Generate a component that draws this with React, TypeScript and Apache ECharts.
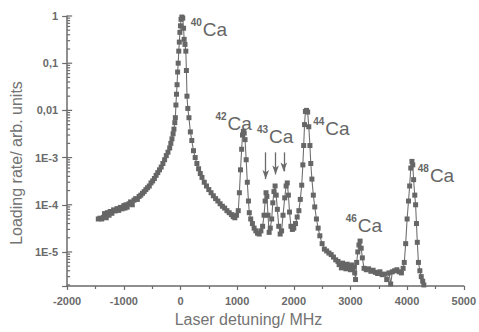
import React, { useEffect, useRef } from 'react';
import * as echarts from 'echarts';

// Laser detuning (MHz)
const detuning = [
  -1450, -1420, -1390, -1360, -1340, -1310, -1290, -1260, -1240, -1210, -1180, -1150, -1120, -1090,
  -1060, -1030, -1000, -980, -960, -940, -910, -880, -850, -820, -790, -760, -730, -700, -670, -640,
  -610, -580, -550, -520, -490, -460, -430, -400, -370, -340, -310, -280, -250, -220, -190, -170,
  -150, -130, -115, -100, -90, -80, -70, -60, -50, -40, -30, -20, -10, 0, 10, 25, 40, 55, 65, 80, 95,
  105, 115, 130, 150, 175, 200, 230, 260, 290, 320, 350, 380, 420, 460, 500, 540, 580, 620, 660, 700,
  740, 780, 820, 860, 900, 930, 960, 990, 1020, 1040, 1060, 1080, 1095, 1110, 1125, 1140, 1160, 1180,
  1200, 1215, 1240, 1270, 1300, 1330, 1360, 1390, 1420, 1450, 1475, 1495, 1510, 1525, 1545, 1565,
  1585, 1610, 1630, 1650, 1670, 1690, 1710, 1735, 1760, 1785, 1810, 1840, 1865, 1885, 1905, 1925,
  1950, 1975, 2000, 2030, 2060, 2090, 2115, 2140, 2160, 2175, 2190, 2205, 2225, 2245, 2265, 2285,
  2300, 2320, 2345, 2370, 2400, 2430, 2460, 2500, 2540, 2580, 2620, 2660, 2700, 2740,
  2780, 2800, 2820, 2840, 2860, 2880, 2900, 2920, 2940, 2960, 2980, 3000, 3020, 3040, 3060, 3075, 3090,
  3110, 3130, 3150, 3170, 3190, 3210, 3240, 3280, 3320,
  3360, 3400, 3440, 3480, 3520, 3560, 3600, 3640, 3680, 3710, 3740, 3780, 3820, 3860, 3900, 3930,
  3950, 3975, 4000, 4025, 4045, 4065, 4085, 4100, 4115, 4135, 4150, 4165, 4180, 4200, 4225, 4250,
  4275, 4295,
];

// Loading rate (arb. units)
const loadingRate = [
  5.0e-5, 5.2e-5, 5.0e-5, 5.4e-5, 6.5e-5, 5.3e-5, 6.8e-5, 6.0e-5, 7.2e-5, 6.6e-5, 7.8e-5, 7.4e-5,
  8.3e-5, 7.6e-5, 8.8e-5, 8.2e-5, 9.6e-5, 8.5e-5, 1.0e-4, 8.9e-5, 1.05e-4, 1.15e-4, 1.0e-4, 1.25e-4,
  1.35e-4, 1.3e-4, 1.5e-4, 1.6e-4, 1.75e-4, 1.9e-4, 2.1e-4, 2.3e-4, 2.5e-4, 2.9e-4, 3.2e-4, 3.6e-4,
  4.2e-4, 4.8e-4, 5.5e-4, 6.3e-4, 7.5e-4, 9.0e-4, 1.1e-3, 1.3e-3, 1.6e-3, 2.0e-3, 2.5e-3, 3.2e-3,
  4.0e-3, 5.5e-3, 7.0e-3, 1.3e-2, 2.2e-2, 3.5e-2, 6.5e-2, 0.1, 0.18, 0.28, 0.45, 0.62, 0.85, 0.95,
  0.9, 0.55, 0.32, 0.25, 0.18, 0.07, 0.02, 0.011, 7e-3, 3.5e-3, 2.3e-3, 1.4e-3, 1.0e-3, 7.5e-4,
  5.8e-4, 4.6e-4, 3.8e-4, 3.0e-4, 2.5e-4, 2.1e-4, 1.8e-4, 1.55e-4, 1.35e-4, 1.2e-4, 1.05e-4, 9.3e-5,
  8.5e-5, 7.5e-5, 6.8e-5, 6.2e-5, 5.6e-5, 5.3e-5, 6.0e-5, 7.5e-5, 1.8e-4, 5.5e-4, 1.5e-3, 3.0e-3,
  3.6e-3, 3.3e-3, 2.4e-3, 9e-4, 3e-4, 1.2e-4, 6.8e-5, 5.0e-5, 4.0e-5, 3.2e-5, 2.8e-5, 2.5e-5,
  2.4e-5, 2.8e-5, 3.5e-5, 6e-5, 1.2e-4, 1.8e-4, 1.5e-4, 6e-5, 2.6e-5, 3.2e-5, 5e-5, 1.1e-4, 1.9e-4,
  2.5e-4, 1.6e-4, 8e-5, 3.5e-5, 2.4e-5, 2.8e-5, 6e-5, 1.4e-4, 2.5e-4, 2.9e-4, 1.6e-4, 7e-5, 3.5e-5,
  3.0e-5, 3.2e-5, 4.0e-5, 5.5e-5, 7.5e-5, 1.3e-4, 2.6e-4, 7e-4, 1.8e-3, 5e-3, 9.5e-3, 1.0e-2,
  9.2e-3, 4.5e-3, 1.8e-3, 7.5e-4, 3.5e-4, 1.6e-4, 9e-5, 5e-5, 3.2e-5, 2.2e-5, 1.5e-5, 1.15e-5,
  1.05e-5, 9.5e-6, 8.8e-6, 7.8e-6, 6.8e-6,
  6.3e-6, 5.4e-6, 5.6e-6, 4.6e-6, 5.8e-6, 4.8e-6, 5.2e-6, 4.4e-6, 5.5e-6, 4.5e-6, 4.9e-6, 4.2e-6,
  5.3e-6, 4.3e-6, 4.8e-6, 3.6e-6, 2.6e-6,
  6e-6, 1.0e-5, 1.4e-5, 1.7e-5, 1.2e-5, 7.5e-6, 4.5e-6, 4.2e-6, 4.4e-6, 3.9e-6,
  4.1e-6, 3.7e-6, 3.5e-6, 3.8e-6, 3.3e-6, 3.4e-6, 2.6e-6, 3.6e-6, 2.1e-6, 3.8e-6, 4.0e-6, 4.2e-6,
  3.8e-6, 3.6e-6, 4.5e-6, 6e-6, 1.5e-5, 5e-5, 1.2e-4, 2.5e-4, 6e-4, 8.3e-4, 7e-4, 3.4e-4, 1.6e-4,
  1.0e-4, 4e-5, 1.6e-5, 6e-6, 4e-6, 3e-6, 2.4e-6, 2.0e-6,
];

// Y tick labels by decade (10^0 ... 10^-5)
const yTickLabels = ['1', '0,1', '0,01', '1E-3', '1E-4', '1E-5'];

// Isotope annotations (anchor of "Ca" in data coordinates)
const isotopeMass = ['40', '42', '43', '44', '46', '48'];
const isotopeLabelX = [395, 831, 1563, 2556, 3131, 4402];
const isotopeLabelY = [0.53, 5.4e-3, 2.73e-3, 4.2e-3, 3.6e-5, 4.2e-4];

// 43Ca arrows
const arrowX = [1505, 1679, 1824];
const arrowTop = [1.29e-3, 1.29e-3, 1.29e-3];
const arrowBottom = [3.5e-4, 4.4e-4, 5.1e-4];

const X_MIN = -2000;
const X_MAX = 5000;
const Y_MIN = 1.9e-6;
const Y_MAX = 1;

const GRAY = '#6b6b6b';
const FONT = '"Liberation Sans", Arial, sans-serif';

export default function App() {
  const ref = useRef<HTMLDivElement>(null);

  useEffect(() => {
    if (!ref.current) return;
    const chart = echarts.init(ref.current, undefined, { renderer: 'svg' });

    // log-spaced minor ticks + inside part of the major ticks on the y axis
    const yTickMarks: number[][] = [];
    for (let e = -6; e <= 0; e++) {
      const base = Math.pow(10, e);
      if (base >= Y_MIN && base <= Y_MAX) yTickMarks.push([X_MIN, base, 5]);
      for (let m = 2; m <= 9; m++) {
        const v = m * base;
        if (v >= Y_MIN && v <= Y_MAX) yTickMarks.push([X_MIN, v, 3]);
      }
    }

    chart.setOption({
      animation: false,
      backgroundColor: '#ffffff',
      grid: { left: 66, right: 12, top: 16, bottom: 45 },
      xAxis: {
        type: 'value',
        min: X_MIN,
        max: X_MAX,
        interval: 1000,
        name: 'Laser detuning/ MHz',
        nameLocation: 'middle',
        nameGap: 25,
        nameTextStyle: {
          fontFamily: FONT,
          fontSize: 16,
          color: '#737373',
          padding: [0, 34, 0, 0],
        },
        axisLine: { show: true, onZero: false, lineStyle: { color: GRAY, width: 1.5 } },
        axisTick: { show: true, length: 4, lineStyle: { color: GRAY, width: 1.2 } },
        minorTick: { show: true, splitNumber: 2, length: 3, lineStyle: { color: GRAY, width: 1.2 } },
        splitLine: { show: false },
        axisLabel: {
          margin: 9,
          fontFamily: FONT,
          fontSize: 11,
          fontWeight: 'bold',
          color: '#6a6a6a',
          formatter: (v: number) => String(v),
        },
      },
      yAxis: {
        type: 'log',
        logBase: 10,
        min: Y_MIN,
        max: Y_MAX,
        name: 'Loading rate/ arb. units',
        nameLocation: 'middle',
        nameGap: 40,
        nameTextStyle: {
          fontFamily: FONT,
          fontSize: 16,
          color: '#737373',
          padding: [0, 24, 0, 0],
        },
        axisLine: { show: true, onZero: false, lineStyle: { color: GRAY, width: 1.5 } },
        axisTick: { show: true, length: 5, lineStyle: { color: GRAY, width: 1.2 } },
        splitLine: { show: false },
        axisLabel: {
          margin: 9,
          fontFamily: FONT,
          fontSize: 11,
          fontWeight: 'bold',
          color: '#6a6a6a',
          formatter: (v: number) => {
            const e = Math.log10(v);
            const r = Math.round(e);
            if (Math.abs(e - r) > 1e-6) return '';
            return yTickLabels[-r] ?? '';
          },
        },
      },
      series: [
        {
          type: 'line',
          data: detuning.map((x, i) => [x, loadingRate[i]]),
          symbol: 'rect',
          symbolSize: 5,
          itemStyle: { color: '#666666' },
          lineStyle: { color: '#707070', width: 1.1 },
          markLine: {
            silent: true,
            symbol: ['none', 'arrow'],
            symbolSize: [5, 9],
            label: { show: false },
            lineStyle: { color: '#6a6a6a', width: 1.3, type: 'solid' },
            data: arrowX.map((x, i) => [
              { coord: [x, arrowTop[i]] },
              { coord: [x, arrowBottom[i]] },
            ]),
          },
        },
        {
          type: 'custom',
          silent: true,
          clip: false,
          data: yTickMarks,
          renderItem: (_p: any, api: any) => {
            const pt = api.coord([api.value(0), api.value(1)]);
            const len = api.value(2);
            return {
              type: 'line',
              shape: { x1: pt[0], y1: pt[1], x2: pt[0] + len, y2: pt[1] },
              style: { stroke: GRAY, lineWidth: 1.2 },
            };
          },
        },
      ],
    });

    const graphics: any[] = [];
    isotopeMass.forEach((m, i) => {
      const p = chart.convertToPixel({ gridIndex: 0 }, [isotopeLabelX[i], isotopeLabelY[i]]) as number[];
      graphics.push({
        type: 'text',
        x: p[0],
        y: p[1],
        style: {
          text: 'Ca',
          fontFamily: FONT,
          fontSize: 19,
          fill: '#666666',
          align: 'left',
          verticalAlign: 'middle',
        },
      });
      graphics.push({
        type: 'text',
        x: p[0] - 1,
        y: p[1] - 7,
        style: {
          text: m,
          fontFamily: FONT,
          fontSize: 10,
          fontWeight: 'bold',
          fill: '#666666',
          align: 'right',
          verticalAlign: 'middle',
        },
      });
    });
    chart.setOption({ graphic: graphics });

    return () => chart.dispose();
  }, []);

  return <div ref={ref} style={{ width: 479, height: 332, position: 'absolute', left: 0, top: 0 }} />;
}
